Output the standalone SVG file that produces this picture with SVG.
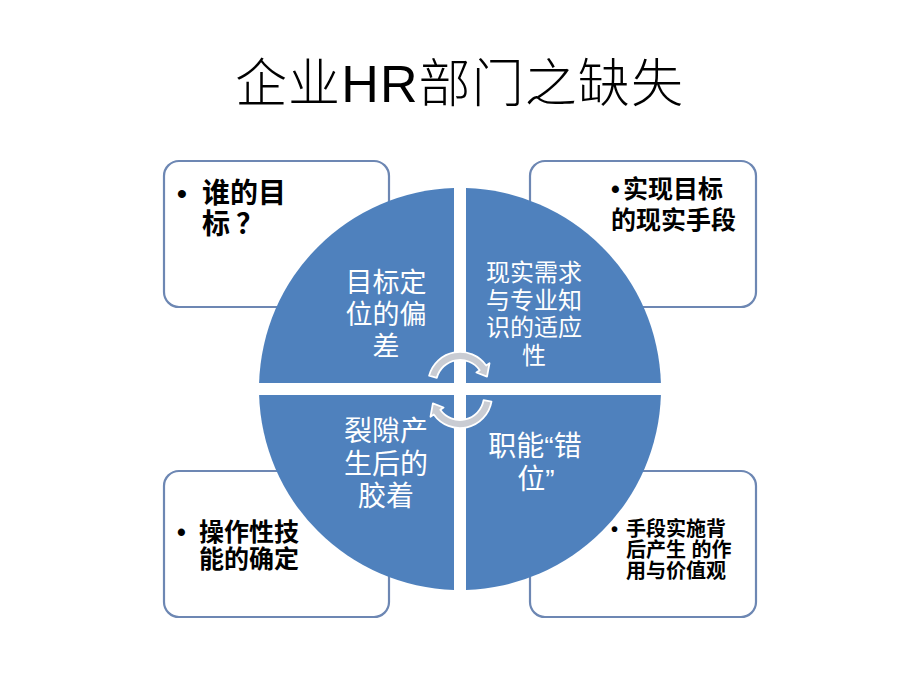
<svg xmlns="http://www.w3.org/2000/svg" width="920" height="690" viewBox="0 0 920 690">
<style>
.box{fill:#fff;stroke:#6d87b3;stroke-width:2.2}
.q{fill:#4f81bd}
.arr{fill:#c9ccd3;stroke:#fff;stroke-width:1.8;stroke-linejoin:round}
.ct{font-family:"Liberation Sans","Noto Sans CJK SC",sans-serif;fill:#fff;text-anchor:middle}
.bt{font-family:"Liberation Sans","Noto Sans CJK SC",sans-serif;fill:#000;font-weight:bold}
.title{font-family:"Liberation Sans","Noto Sans CJK SC",sans-serif;fill:#000;font-size:52px;font-weight:300;text-anchor:middle}
</style>
<rect width="920" height="690" fill="#fff"/>
<text class="title" x="459" y="102" textLength="448" lengthAdjust="spacing">企业HR部门之缺失</text>

<g id="box-tl">
<rect class="box" x="164" y="161" width="225" height="146" rx="15"/>
<text class="bt" font-size="28"><tspan x="177" y="203">•</tspan><tspan x="202" y="203">谁的目</tspan><tspan x="202" y="234">标</tspan><tspan dx="6">？</tspan></text>
</g>
<g id="box-tr">
<rect class="box" x="530" y="161" width="226" height="146" rx="15"/>
<text class="bt" font-size="25"><tspan x="611" y="198">•</tspan><tspan x="623" y="198">实现目标</tspan><tspan x="611" y="229">的现实手段</tspan></text>
</g>
<g id="box-bl">
<rect class="box" x="164" y="471" width="225" height="146" rx="15"/>
<text class="bt" font-size="25"><tspan x="177" y="541">•</tspan><tspan x="199" y="541">操作性技</tspan><tspan x="199" y="568">能的确定</tspan></text>
</g>
<g id="box-br">
<rect class="box" x="530" y="471" width="226" height="146" rx="15"/>
<text class="bt" font-size="20"><tspan x="611" y="536">•</tspan><tspan x="626" y="536">手段实施背</tspan><tspan x="626" y="557">后产生 的作</tspan><tspan x="626" y="578">用与价值观</tspan></text>
</g>

<g id="q-tl">
<path class="q" d="M454,383 L259.1,383 A201,201 0 0 1 454,188.1 Z"/>
<text class="ct" font-size="27"><tspan x="386" y="292">目标定</tspan><tspan x="386" y="324">位的偏</tspan><tspan x="386" y="356">差</tspan></text>
</g>
<g id="q-tr">
<path class="q" d="M466,383 L466,188.1 A201,201 0 0 1 660.9,383 Z"/>
<text class="ct" font-size="24"><tspan x="534" y="281">现实需求</tspan><tspan x="534" y="309">与专业知</tspan><tspan x="534" y="336">识的适应</tspan><tspan x="534" y="364">性</tspan></text>
</g>
<g id="q-bl">
<path class="q" d="M454,395 L454,589.9 A201,201 0 0 1 259.1,395 Z"/>
<text class="ct" font-size="28"><tspan x="386" y="441">裂隙产</tspan><tspan x="386" y="474">生后的</tspan><tspan x="386" y="506">胶着</tspan></text>
</g>
<g id="q-br">
<path class="q" d="M466,395 L660.9,395 A201,201 0 0 1 466,589.9 Z"/>
<text class="ct" font-size="28"><tspan x="535" y="456">职能“错</tspan><tspan x="536" y="489">位”</tspan></text>
</g>

<g id="connectors">
<path class="arr" d="M429.1,375.7 A32,32 0 0 1 486.2,365.6 L489.5,363.3 L487,376.7 L476.4,372.5 L479.7,370.2 A24,24 0 0 0 436.8,377.8 Z"/>
<path class="arr" d="M491.5,401.6 A32,32 0 0 1 433.8,414.4 L430.5,416.7 L432.9,403.3 L443.6,407.5 L440.3,409.8 A24,24 0 0 0 483.6,400.2 Z"/>
</g>
</svg>
